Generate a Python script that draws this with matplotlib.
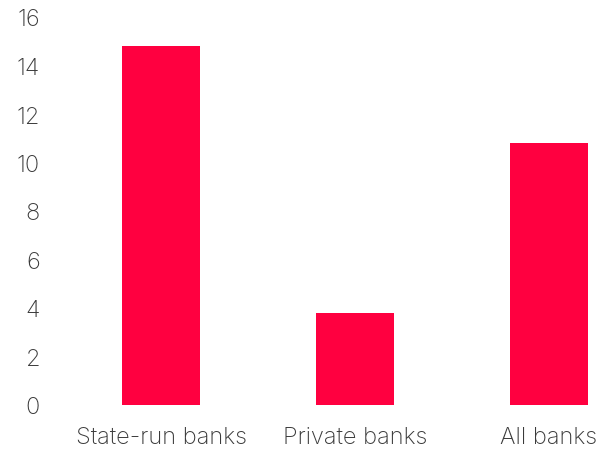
import matplotlib.pyplot as plt

categories = ["State-run banks", "Private banks", "All banks"]
values = [14.8, 3.8, 10.8]
y_ticks = [0, 2, 4, 6, 8, 10, 12, 14, 16]

plt.rcParams['font.family'] = ['Inter', 'DejaVu Sans']

fig = plt.figure(figsize=(6.08, 4.52), dpi=100)
ax = fig.add_axes([65 / 608, 46 / 452, 535 / 608, 388 / 452])

ax.bar(range(len(categories)), values, width=0.4, color='#FF0040')

ax.set_xlim(-0.495, 2.263)
ax.set_ylim(0, 16)
ax.set_yticks(y_ticks)
ax.set_xticks(range(len(categories)))
ax.set_xticklabels(categories)

for spine in ax.spines.values():
    spine.set_visible(False)

ax.tick_params(axis='y', length=0, pad=18, labelsize=17, labelcolor='#3a3a3a')
ax.tick_params(axis='x', length=0, pad=15, labelsize=17, labelcolor='#3a3a3a')
for lbl in ax.get_xticklabels() + ax.get_yticklabels():
    lbl.set_fontweight('light')

fig.savefig('out.png', dpi=100)
